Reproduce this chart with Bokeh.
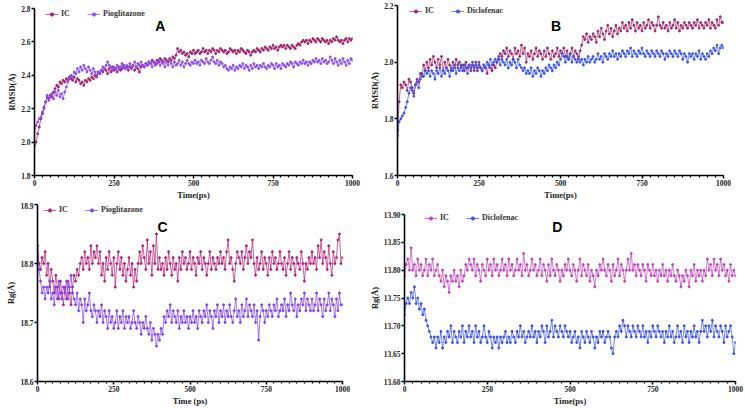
import numpy as np
from bokeh.plotting import figure
from bokeh.layouts import column, row
from bokeh.models import (Range1d, FixedTicker, NumeralTickFormatter, Legend,
                          LegendItem, Label)
from bokeh.embed import file_html
from bokeh.resources import INLINE

# ---------------- data (sampled every 5 ps) ----------------
a_ic = [1.98, 2.00, 2.05, 2.09, 2.14, 2.17, 2.21, 2.24, 2.27, 2.26, 2.28, 2.27, 2.30, 2.32, 2.34, 2.33, 2.36, 2.35, 2.37, 2.36,
        2.38, 2.37, 2.39, 2.38, 2.37, 2.39, 2.36, 2.38, 2.37, 2.35, 2.36, 2.34, 2.37, 2.36, 2.38, 2.37, 2.39, 2.38, 2.40, 2.39,
        2.42, 2.41, 2.43, 2.42, 2.44, 2.43, 2.41, 2.44, 2.42, 2.45, 2.43, 2.44, 2.42, 2.45, 2.43, 2.44, 2.46, 2.44, 2.45, 2.43,
        2.45, 2.44, 2.46, 2.43, 2.45, 2.44, 2.42, 2.45, 2.46, 2.45, 2.47, 2.46, 2.48, 2.47, 2.49, 2.48, 2.47, 2.49, 2.48, 2.50,
        2.49, 2.48, 2.50, 2.49, 2.48, 2.50, 2.49, 2.51, 2.50, 2.52, 2.56, 2.54, 2.55, 2.53, 2.54, 2.52, 2.53, 2.51, 2.54, 2.53,
        2.55, 2.53, 2.54, 2.55, 2.53, 2.54, 2.56, 2.54, 2.55, 2.53, 2.55, 2.54, 2.56, 2.55, 2.53, 2.55, 2.54, 2.56, 2.55, 2.54,
        2.55, 2.53, 2.54, 2.56, 2.55, 2.54, 2.55, 2.53, 2.55, 2.54, 2.56, 2.55, 2.54, 2.53, 2.55, 2.54, 2.52, 2.54, 2.55, 2.54,
        2.56, 2.55, 2.54, 2.56, 2.55, 2.57, 2.56, 2.55, 2.57, 2.56, 2.58, 2.56, 2.57, 2.55, 2.57, 2.58, 2.57, 2.58, 2.56, 2.58,
        2.57, 2.56, 2.58, 2.57, 2.56, 2.58, 2.59, 2.58, 2.60, 2.61, 2.60, 2.61, 2.59, 2.61, 2.60, 2.62, 2.61, 2.60, 2.62, 2.61,
        2.60, 2.62, 2.61, 2.60, 2.61, 2.59, 2.61, 2.60, 2.62, 2.61, 2.63, 2.61, 2.60, 2.61, 2.59, 2.61, 2.62, 2.60, 2.62, 2.61,
        2.62]
a_pio = [2.08, 2.10, 2.12, 2.14, 2.15, 2.18, 2.20, 2.24, 2.28, 2.25, 2.27, 2.29, 2.26, 2.30, 2.28, 2.31, 2.27, 2.29, 2.26, 2.30,
         2.33, 2.36, 2.38, 2.40, 2.39, 2.42, 2.41, 2.44, 2.42, 2.45, 2.43, 2.46, 2.44, 2.42, 2.45, 2.43, 2.41, 2.44, 2.42, 2.40,
         2.42, 2.41, 2.43, 2.45, 2.44, 2.46, 2.48, 2.46, 2.45, 2.43, 2.45, 2.44, 2.46, 2.44, 2.45, 2.47, 2.45, 2.44, 2.46, 2.45,
         2.47, 2.45, 2.46, 2.48, 2.45, 2.47, 2.46, 2.48, 2.46, 2.45, 2.47, 2.46, 2.48, 2.47, 2.45, 2.48, 2.46, 2.47, 2.49, 2.46,
         2.48, 2.47, 2.45, 2.48, 2.46, 2.49, 2.47, 2.45, 2.48, 2.46, 2.47, 2.49, 2.46, 2.48, 2.45, 2.47, 2.49, 2.47, 2.46, 2.48,
         2.47, 2.49, 2.47, 2.48, 2.46, 2.49, 2.48, 2.47, 2.50, 2.48, 2.47, 2.49, 2.51, 2.48, 2.47, 2.49, 2.46, 2.48, 2.47, 2.45,
         2.46, 2.44, 2.43, 2.45, 2.44, 2.46, 2.43, 2.45, 2.44, 2.46, 2.45, 2.47, 2.44, 2.46, 2.45, 2.43, 2.46, 2.44, 2.47, 2.45,
         2.46, 2.44, 2.46, 2.45, 2.47, 2.45, 2.44, 2.46, 2.45, 2.47, 2.46, 2.44, 2.47, 2.45, 2.46, 2.44, 2.47, 2.46, 2.45, 2.47,
         2.46, 2.48, 2.47, 2.45, 2.48, 2.47, 2.46, 2.48, 2.47, 2.49, 2.47, 2.48, 2.46, 2.48, 2.47, 2.49, 2.48, 2.50, 2.48, 2.49,
         2.47, 2.50, 2.48, 2.49, 2.47, 2.48, 2.51, 2.49, 2.47, 2.50, 2.48, 2.46, 2.49, 2.47, 2.50, 2.48, 2.46, 2.49, 2.47, 2.50,
         2.49]
b_ic = [1.76, 1.86, 1.92, 1.91, 1.93, 1.92, 1.90, 1.94, 1.93, 1.91, 1.89, 1.92, 1.94, 1.93, 1.96, 1.95, 1.99, 1.97, 2.00, 1.98,
        2.01, 1.99, 2.02, 2.00, 1.98, 2.01, 1.99, 2.02, 1.97, 2.00, 1.98, 2.01, 1.99, 1.97, 2.00, 1.98, 2.01, 1.99, 2.00, 1.98,
        1.99, 1.97, 2.00, 1.98, 1.99, 1.97, 1.99, 1.98, 2.00, 1.97, 1.99, 1.98, 1.97, 1.99, 1.98, 1.96, 1.99, 1.98, 1.97, 1.99,
        1.98, 2.00, 2.01, 2.03, 2.02, 2.04, 2.03, 2.05, 2.02, 2.04, 2.03, 2.01, 2.05, 2.03, 2.04, 2.02, 2.06, 2.03, 2.05, 2.00,
        2.03, 2.02, 2.04, 2.01, 2.03, 2.05, 2.02, 2.04, 2.03, 2.01, 2.04, 2.02, 2.05, 2.03, 2.01, 2.04, 2.02, 2.03, 2.05, 2.02,
        2.04, 2.03, 2.05, 2.02, 2.04, 2.01, 2.03, 2.05, 2.02, 2.04, 2.03, 2.01, 2.04, 2.06, 2.09, 2.08, 2.10, 2.07, 2.09, 2.08,
        2.10, 2.09, 2.07, 2.11, 2.09, 2.12, 2.10, 2.08, 2.11, 2.13, 2.10, 2.12, 2.09, 2.11, 2.13, 2.10, 2.12, 2.11, 2.14, 2.12,
        2.13, 2.11, 2.14, 2.12, 2.15, 2.13, 2.11, 2.14, 2.12, 2.13, 2.11, 2.14, 2.12, 2.13, 2.15, 2.12, 2.14, 2.13, 2.11, 2.13,
        2.16, 2.13, 2.12, 2.14, 2.12, 2.13, 2.11, 2.14, 2.12, 2.13, 2.15, 2.12, 2.14, 2.11, 2.13, 2.12, 2.14, 2.13, 2.12, 2.14,
        2.13, 2.12, 2.14, 2.13, 2.15, 2.12, 2.14, 2.13, 2.12, 2.14, 2.13, 2.15, 2.12, 2.14, 2.13, 2.12, 2.15, 2.13, 2.16, 2.14,
        2.14]
b_dic = [1.74, 1.79, 1.80, 1.81, 1.82, 1.84, 1.86, 1.89, 1.91, 1.90, 1.88, 1.92, 1.93, 1.91, 1.94, 1.96, 1.95, 1.97, 1.96, 1.97,
         1.95, 1.97, 1.96, 1.94, 1.97, 1.96, 1.98, 1.95, 1.97, 1.96, 1.98, 1.97, 1.95, 1.98, 1.97, 1.99, 1.96, 1.98, 1.97, 1.99,
         1.97, 1.99, 1.98, 1.96, 1.99, 1.98, 2.00, 1.97, 1.99, 1.98, 2.00, 1.98, 1.97, 1.99, 1.98, 2.00, 1.99, 2.01, 1.99, 2.00,
         2.01, 2.00, 2.02, 1.99, 2.01, 2.00, 1.99, 2.01, 1.98, 2.00, 1.99, 2.01, 2.00, 1.98, 2.01, 1.99, 1.98, 1.97, 1.98, 1.96,
         1.97, 1.96, 1.98, 1.95, 1.97, 1.96, 1.98, 1.97, 1.95, 1.97, 1.96, 1.98, 1.97, 1.99, 1.98, 1.97, 1.99, 1.98, 2.00, 1.99,
         2.01, 2.03, 2.02, 2.00, 2.02, 2.01, 2.03, 2.00, 2.02, 2.01, 2.00, 2.02, 2.00, 2.01, 1.99, 2.01, 2.00, 2.02, 2.00, 2.01,
         2.02, 2.00, 2.01, 2.03, 2.01, 2.02, 2.00, 2.03, 2.02, 2.01, 2.03, 2.02, 2.04, 2.02, 2.03, 2.01, 2.03, 2.02, 2.04, 2.03,
         2.02, 2.04, 2.03, 2.05, 2.02, 2.04, 2.03, 2.02, 2.04, 2.03, 2.05, 2.03, 2.02, 2.04, 2.03, 2.02, 2.04, 2.03, 2.02, 2.04,
         2.03, 2.02, 2.04, 2.03, 2.01, 2.03, 2.02, 2.04, 2.03, 2.02, 2.04, 2.03, 2.02, 2.04, 2.03, 2.01, 2.03, 2.02, 2.00, 2.03,
         2.02, 2.03, 2.01, 2.03, 2.02, 2.04, 2.01, 2.03, 2.02, 2.01, 2.03, 2.02, 2.04, 2.03, 2.05, 2.04, 2.06, 2.03, 2.05, 2.06,
         2.05]
c_ic = [18.83, 18.80, 18.79, 18.81, 18.80, 18.82, 18.78, 18.80, 18.76, 18.79, 18.77, 18.75, 18.78, 18.76, 18.74, 18.77, 18.75, 18.73, 18.76, 18.74,
        18.77, 18.75, 18.73, 18.76, 18.78, 18.77, 18.79, 18.78, 18.80, 18.81, 18.79, 18.82, 18.80, 18.81, 18.79, 18.83, 18.80, 18.82, 18.81, 18.83,
        18.80, 18.82, 18.78, 18.80, 18.77, 18.81, 18.79, 18.82, 18.80, 18.78, 18.81, 18.76, 18.80, 18.82, 18.79, 18.81, 18.78, 18.80, 18.77, 18.79,
        18.81, 18.78, 18.80, 18.76, 18.79, 18.77, 18.80, 18.82, 18.80, 18.83, 18.81, 18.79, 18.84, 18.80, 18.82, 18.78, 18.83, 18.80, 18.85, 18.79,
        18.81, 18.79, 18.80, 18.78, 18.81, 18.79, 18.82, 18.80, 18.78, 18.81, 18.79, 18.80, 18.77, 18.81, 18.79, 18.82, 18.80, 18.81, 18.79, 18.80,
        18.82, 18.79, 18.81, 18.80, 18.78, 18.81, 18.80, 18.82, 18.79, 18.81, 18.80, 18.78, 18.80, 18.82, 18.79, 18.81, 18.80, 18.79, 18.81, 18.80,
        18.82, 18.80, 18.81, 18.79, 18.82, 18.84, 18.80, 18.81, 18.79, 18.77, 18.80, 18.82, 18.81, 18.80, 18.82, 18.79, 18.81, 18.83, 18.80, 18.82,
        18.81, 18.84, 18.80, 18.78, 18.81, 18.79, 18.80, 18.82, 18.79, 18.81, 18.80, 18.78, 18.81, 18.79, 18.82, 18.80, 18.81, 18.79, 18.80, 18.82,
        18.80, 18.79, 18.81, 18.78, 18.80, 18.82, 18.79, 18.81, 18.80, 18.78, 18.81, 18.80, 18.79, 18.82, 18.80, 18.77, 18.80, 18.79, 18.81, 18.80,
        18.82, 18.80, 18.81, 18.79, 18.83, 18.81, 18.84, 18.80, 18.82, 18.81, 18.79, 18.83, 18.80, 18.78, 18.82, 18.80, 18.81, 18.84, 18.85, 18.80,
        18.81]
c_pio = [18.83, 18.79, 18.77, 18.75, 18.76, 18.74, 18.76, 18.75, 18.77, 18.74, 18.75, 18.73, 18.76, 18.74, 18.77, 18.75, 18.74, 18.76, 18.75, 18.77,
         18.74, 18.76, 18.78, 18.75, 18.74, 18.73, 18.75, 18.72, 18.74, 18.73, 18.70, 18.74, 18.72, 18.73, 18.75, 18.72, 18.71, 18.73, 18.72, 18.70,
         18.72, 18.71, 18.73, 18.70, 18.72, 18.71, 18.69, 18.72, 18.70, 18.71, 18.69, 18.70, 18.72, 18.69, 18.71, 18.70, 18.72, 18.69, 18.71, 18.70,
         18.71, 18.69, 18.70, 18.72, 18.70, 18.69, 18.71, 18.70, 18.68, 18.70, 18.69, 18.71, 18.69, 18.68, 18.70, 18.67, 18.69, 18.68, 18.66, 18.68,
         18.67, 18.69, 18.68, 18.71, 18.70, 18.72, 18.71, 18.73, 18.70, 18.72, 18.71, 18.70, 18.72, 18.69, 18.71, 18.70, 18.72, 18.70, 18.71, 18.69,
         18.71, 18.70, 18.72, 18.70, 18.71, 18.69, 18.72, 18.71, 18.70, 18.72, 18.71, 18.73, 18.70, 18.72, 18.71, 18.69, 18.72, 18.71, 18.73, 18.70,
         18.72, 18.71, 18.73, 18.70, 18.72, 18.71, 18.73, 18.71, 18.70, 18.72, 18.74, 18.71, 18.72, 18.70, 18.73, 18.71, 18.72, 18.74, 18.71, 18.73,
         18.72, 18.71, 18.73, 18.70, 18.72, 18.67, 18.71, 18.73, 18.72, 18.70, 18.72, 18.71, 18.73, 18.72, 18.71, 18.73, 18.72, 18.74, 18.71, 18.72,
         18.73, 18.72, 18.74, 18.71, 18.73, 18.72, 18.75, 18.73, 18.72, 18.74, 18.71, 18.73, 18.72, 18.74, 18.73, 18.75, 18.72, 18.74, 18.73, 18.72,
         18.74, 18.72, 18.73, 18.75, 18.72, 18.74, 18.73, 18.71, 18.74, 18.72, 18.73, 18.75, 18.72, 18.74, 18.73, 18.71, 18.74, 18.72, 18.75, 18.73,
         18.73]
d_ic = [13.79, 13.81, 13.82, 13.80, 13.84, 13.80, 13.81, 13.79, 13.82, 13.80, 13.81, 13.79, 13.80, 13.82, 13.79, 13.81, 13.80, 13.82, 13.79, 13.80,
        13.81, 13.79, 13.78, 13.80, 13.77, 13.79, 13.78, 13.76, 13.79, 13.78, 13.80, 13.78, 13.79, 13.77, 13.80, 13.78, 13.79, 13.81, 13.80, 13.82,
        13.81, 13.80, 13.82, 13.79, 13.81, 13.80, 13.78, 13.81, 13.80, 13.79, 13.82, 13.80, 13.81, 13.79, 13.82, 13.80, 13.81, 13.79, 13.80, 13.82,
        13.80, 13.81, 13.79, 13.82, 13.80, 13.81, 13.79, 13.80, 13.82, 13.80, 13.81, 13.79, 13.83, 13.80, 13.81, 13.79, 13.80, 13.82, 13.80, 13.81,
        13.79, 13.80, 13.82, 13.79, 13.81, 13.80, 13.78, 13.81, 13.79, 13.82, 13.80, 13.79, 13.81, 13.80, 13.78, 13.80, 13.79, 13.81, 13.80, 13.82,
        13.80, 13.79, 13.81, 13.80, 13.78, 13.80, 13.82, 13.79, 13.81, 13.80, 13.79, 13.81, 13.78, 13.80, 13.79, 13.77, 13.80, 13.79, 13.81, 13.80,
        13.82, 13.80, 13.79, 13.81, 13.80, 13.78, 13.81, 13.79, 13.80, 13.82, 13.79, 13.81, 13.80, 13.78, 13.80, 13.82, 13.80, 13.83, 13.80, 13.81,
        13.79, 13.81, 13.80, 13.79, 13.81, 13.80, 13.78, 13.81, 13.80, 13.79, 13.81, 13.79, 13.80, 13.78, 13.80, 13.79, 13.81, 13.79, 13.80, 13.78,
        13.80, 13.79, 13.81, 13.79, 13.78, 13.80, 13.79, 13.77, 13.79, 13.78, 13.80, 13.79, 13.77, 13.80, 13.79, 13.81, 13.78, 13.80, 13.79, 13.80,
        13.78, 13.80, 13.79, 13.82, 13.80, 13.81, 13.79, 13.82, 13.80, 13.81, 13.79, 13.82, 13.80, 13.81, 13.79, 13.80, 13.78, 13.81, 13.79, 13.80,
        13.79]
d_dic = [13.72, 13.74, 13.75, 13.74, 13.76, 13.75, 13.77, 13.74, 13.75, 13.73, 13.74, 13.72, 13.73, 13.71, 13.70, 13.69, 13.68, 13.67, 13.68, 13.66,
         13.68, 13.67, 13.69, 13.66, 13.68, 13.67, 13.69, 13.68, 13.70, 13.67, 13.69, 13.68, 13.67, 13.69, 13.68, 13.70, 13.67, 13.69, 13.68, 13.70,
         13.68, 13.69, 13.67, 13.70, 13.68, 13.69, 13.67, 13.68, 13.70, 13.68, 13.67, 13.69, 13.68, 13.66, 13.68, 13.67, 13.68, 13.66, 13.68, 13.67,
         13.68, 13.69, 13.67, 13.68, 13.67, 13.69, 13.68, 13.67, 13.69, 13.68, 13.70, 13.68, 13.69, 13.67, 13.68, 13.69, 13.68, 13.70, 13.68, 13.69,
         13.67, 13.69, 13.68, 13.70, 13.69, 13.67, 13.70, 13.68, 13.69, 13.71, 13.68, 13.70, 13.69, 13.68, 13.70, 13.69, 13.68, 13.70, 13.69, 13.68,
         13.69, 13.67, 13.68, 13.69, 13.67, 13.68, 13.66, 13.69, 13.68, 13.67, 13.69, 13.68, 13.67, 13.69, 13.68, 13.66, 13.68, 13.67, 13.69, 13.68,
         13.69, 13.67, 13.68, 13.69, 13.68, 13.66, 13.65, 13.68, 13.69, 13.68, 13.70, 13.69, 13.71, 13.70, 13.68, 13.70, 13.69, 13.68, 13.70, 13.69,
         13.68, 13.70, 13.69, 13.68, 13.70, 13.68, 13.69, 13.67, 13.69, 13.68, 13.70, 13.69, 13.68, 13.70, 13.69, 13.68, 13.69, 13.67, 13.69, 13.68,
         13.70, 13.68, 13.69, 13.67, 13.68, 13.70, 13.68, 13.69, 13.67, 13.70, 13.68, 13.69, 13.67, 13.69, 13.68, 13.70, 13.68, 13.69, 13.67, 13.69,
         13.71, 13.69, 13.70, 13.68, 13.70, 13.69, 13.71, 13.68, 13.70, 13.69, 13.68, 13.70, 13.69, 13.67, 13.70, 13.68, 13.69, 13.70, 13.68, 13.65,
         13.67]

x_ticks = [0, 250, 500, 750, 1000]
SERIF = "Liberation Serif"


def times(vals):
    return np.linspace(0, 1000, len(vals))


def make_panel(width, height, borders, yr, yticks, yfmt, ylabel, xlabel,
               series, letter, letter_pos, legend_loc):
    l, r, t, b = borders
    p = figure(width=width, height=height, output_backend="svg", toolbar_location=None,
               x_range=Range1d(0, 1000), y_range=Range1d(*yr),
               min_border_left=l, min_border_right=r, min_border_top=t, min_border_bottom=b)
    p.outline_line_color = None
    p.xgrid.visible = False
    p.ygrid.visible = False
    p.background_fill_color = "white"
    p.border_fill_color = "white"

    p.xaxis.ticker = FixedTicker(ticks=x_ticks, minor_ticks=list(range(0, 1001, 25)))
    p.yaxis.ticker = FixedTicker(ticks=yticks)
    p.yaxis.formatter = NumeralTickFormatter(format=yfmt)
    for ax in (p.xaxis[0], p.yaxis[0]):
        ax.axis_line_width = 1.6
        ax.axis_line_color = "black"
        ax.major_tick_line_width = 1.4
        ax.major_tick_out = 3
        ax.major_tick_in = 0
        ax.minor_tick_out = 2
        ax.minor_tick_in = 0
        ax.minor_tick_line_width = 1.2
        ax.major_label_text_font = SERIF
        ax.major_label_text_font_style = "bold"
        ax.major_label_text_font_size = "7.5px"
        ax.major_label_text_color = "#222222"
        ax.major_label_standoff = 1
        ax.axis_label_text_font = SERIF
        ax.axis_label_text_font_style = "bold"
        ax.axis_label_text_font_size = "8.5px"
        ax.axis_label_text_color = "#222222"
        ax.axis_label_standoff = 1
    p.yaxis.minor_tick_line_color = None
    p.xaxis.axis_label = xlabel
    p.yaxis.axis_label = ylabel

    items = []
    for name, vals, color in series:
        xs = times(vals)
        lr = p.line(xs, vals, line_color=color, line_width=0.7)
        sr = p.scatter(xs, vals, size=2.0, fill_color=color, line_color=color)
        items.append(LegendItem(label=name, renderers=[lr, sr]))
    leg = Legend(items=items, orientation="horizontal", location=legend_loc,
                 border_line_color=None, background_fill_alpha=0,
                 label_text_font=SERIF, label_text_font_style="bold",
                 label_text_font_size="8px", label_text_color="#333333",
                 glyph_width=13, glyph_height=8, label_standoff=3, spacing=6,
                 padding=0, margin=0, label_height=8)
    p.add_layout(leg, "center")

    p.add_layout(Label(x=letter_pos[0], y=letter_pos[1], text=letter,
                       text_font="Liberation Sans", text_font_style="bold",
                       text_font_size="14px", text_align="center",
                       text_baseline="middle", text_color="black"))
    return p


pA = make_panel(362, 202, (34, 10, 8, 27), (1.8, 2.8), [1.8, 2.0, 2.2, 2.4, 2.6, 2.8], "0.0",
                "RMSD(Å)", "Time(ps)",
                [("IC", a_ic, "#A5226E"), ("Pioglitazone", a_pio, "#8B4CF5")],
                "A", (396, 2.698), (11, 157))
pB = make_panel(382, 202, (35, 21, 5, 27), (1.6, 2.2), [1.6, 1.8, 2.0, 2.2], "0.0",
                "RMSD(Å)", "Time(ps)",
                [("IC", b_ic, "#A0286F"), ("Diclofenac", b_dic, "#3B55EE")],
                "B", (486, 2.129), (12, 160))
pC = make_panel(362, 206, (37, 20, 2, 27), (18.6, 18.9), [18.6, 18.7, 18.8, 18.9], "0.0",
                "Rg(Å)", "Time (ps)",
                [("IC", c_ic, "#B51F78"), ("Pioglitazone", c_pio, "#8041EE")],
                "C", (410, 18.862), (6, 167))
pD = make_panel(382, 206, (42, 9, 12, 27), (13.6, 13.9), [13.6, 13.65, 13.7, 13.75, 13.8, 13.85, 13.9], "0.00",
                "Rg(Å)", "Time(ps)",
                [("IC", d_ic, "#C33FC0"), ("Diclofenac", d_dic, "#3551E9")],
                "D", (462, 13.878), (20, 159))

layout = column(row(column(pA), column(pB)), row(column(pC), column(pD)))
open("out.html", "w").write(file_html(layout, INLINE))
